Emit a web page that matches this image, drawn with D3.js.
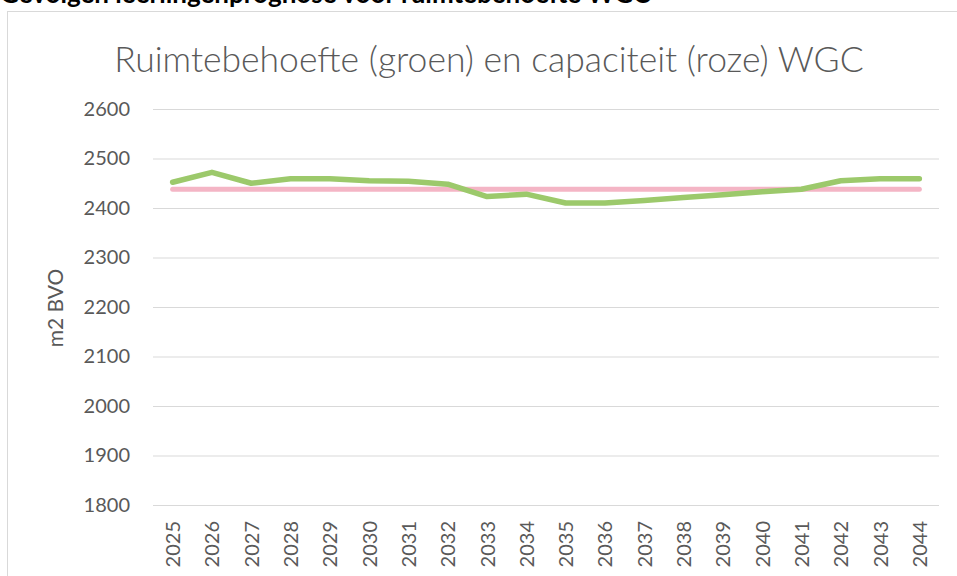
<!DOCTYPE html>
<html>
<head>
<meta charset="utf-8">
<script src="https://cdn.jsdelivr.net/npm/d3@7"></script>
<style>
  body { margin: 0; background: #fff; }
  svg { display: block; font-family: Lato, "Liberation Sans", sans-serif; }
</style>
</head>
<body>
<svg id="chart"></svg>
<script>
// jaren en waarden
var years = ["2025","2026","2027","2028","2029","2030","2031","2032","2033","2034",
             "2035","2036","2037","2038","2039","2040","2041","2042","2043","2044"]
var groen = [2452,2472,2450,2459,2459,2455,2454,2448,2423,2428,
             2410,2410,2415,2421,2427,2433,2438,2455,2459,2459]
var roze = [2438,2438,2438,2438,2438,2438,2438,2438,2438,2438,
            2438,2438,2438,2438,2438,2438,2438,2438,2438,2438]
var yTicks = [1800,1900,2000,2100,2200,2300,2400,2500,2600]

var screen = {width:957, height:576}
var plot = {left:153, right:939, top:109, bottom:505}

var svg = d3.select("#chart")
    .attr("width",screen.width)
    .attr("height",screen.height)

// kop boven de grafiek (afgesneden door de rand van het beeld)
svg.append("text")
    .attr("x",0)
    .attr("y",3)
    .attr("font-weight","bold")
    .attr("font-size",26)
    .attr("fill","#000")
    .text("Gevolgen leerlingenprognose voor ruimtebehoefte WGC")

// kader
svg.append("rect")
    .attr("x",7.5)
    .attr("y",11.5)
    .attr("width",980)
    .attr("height",600)
    .attr("fill","#fff")
    .attr("stroke","#d9d9d9")
    .attr("stroke-width",1)

svg.append("text")
    .attr("x",489)
    .attr("y",72)
    .attr("text-anchor","middle")
    .attr("font-size",35.5)
    .attr("font-weight",300)
    .attr("fill","#595959")
    .text("Ruimtebehoefte (groen) en capaciteit (roze) WGC")

var xScale = d3.scalePoint()
    .domain(years)
    .range([plot.left,plot.right])
    .padding(0.5)

var yScale = d3.scaleLinear()
    .domain([1800,2600])
    .range([plot.bottom,plot.top])

var yAxis = d3.axisLeft(yScale)
    .tickValues(yTicks)
    .tickSize(-(plot.right-plot.left))
    .tickPadding(23)
    .tickFormat(d3.format("d"))

var gy = svg.append("g")
    .attr("transform","translate("+plot.left+",0)")
    .call(yAxis)
gy.select(".domain").remove()
gy.selectAll("line").attr("stroke","#d9d9d9").attr("stroke-width",1)
gy.selectAll("text")
    .attr("font-size",20)
    .attr("fill","#595959")
    .attr("font-family","Lato, sans-serif")

var xAxis = d3.axisBottom(xScale).tickSize(0).tickPadding(0)
var gx = svg.append("g")
    .attr("transform","translate(0,"+plot.bottom+")")
    .call(xAxis)
gx.select(".domain").remove()
gx.selectAll("text")
    .attr("font-size",20)
    .attr("fill","#595959")
    .attr("font-family","Lato, sans-serif")
    .attr("text-anchor","end")
    .attr("dy","0.35em")
    .attr("transform","translate(0,16) rotate(-90)")
    .attr("x",0)
    .attr("y",0)

svg.append("text")
    .attr("transform","translate(63,308) rotate(-90)")
    .attr("text-anchor","middle")
    .attr("font-size",21)
    .attr("fill","#595959")
    .text("m2 BVO")

var line = d3.line()
    .x(function(d,i){ return xScale(years[i]) })
    .y(function(d){ return yScale(d) })

svg.append("path")
    .datum(roze)
    .attr("d",line)
    .attr("fill","none")
    .attr("stroke","#f4b5c5")
    .attr("stroke-width",5)
    .attr("stroke-linecap","round")
    .attr("stroke-linejoin","round")

svg.append("path")
    .datum(groen)
    .attr("d",line)
    .attr("fill","none")
    .attr("stroke","#9cc96b")
    .attr("stroke-width",5.5)
    .attr("stroke-linecap","round")
    .attr("stroke-linejoin","round")
</script>
</body>
</html>
